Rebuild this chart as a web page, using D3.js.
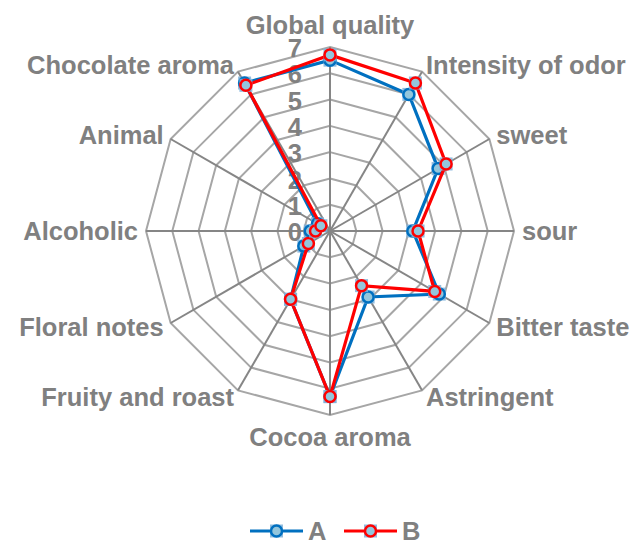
<!DOCTYPE html>
<html><head><meta charset="utf-8">
<script src="https://cdn.jsdelivr.net/npm/d3@7"></script>
<style>body{margin:0;background:#fff}svg{display:block}</style>
</head><body>
<script>
const categories = ["Global quality","Intensity of odor","sweet","sour","Bitter taste","Astringent","Cocoa aroma","Fruity and roast","Floral notes","Alcoholic","Animal","Chocolate aroma"];
const seriesA = [6.5, 6.0, 4.75, 3.15, 4.8, 2.9, 6.3, 3.0, 1.15, 0.75, 0.55, 6.5];
const seriesB = [6.7, 6.5, 5.1, 3.35, 4.6, 2.4, 6.3, 3.0, 0.95, 0.55, 0.4, 6.4];
const tickValues = [0,1,2,3,4,5,6,7];
const seriesNames = ["A","B"];

const W=636,H=544, cx=330, cy=231, R=184;
const FS=25.5;
const svg=d3.select("body").append("svg").attr("width",W).attr("height",H);
const font="'Liberation Sans', Arial, sans-serif";
const gray="#808080";
const r=d3.scaleLinear().domain([0,7]).range([0,R]);
const ang=d3.scaleLinear().domain([0,categories.length]).range([0,2*Math.PI]);
const pt=(i,v)=>[cx+r(v)*Math.sin(ang(i)), cy-r(v)*Math.cos(ang(i))];
const g=svg.append("g");
// rings
tickValues.slice(1).forEach(t=>{
  g.append("polygon").attr("points",categories.map((c,i)=>pt(i,t).join(",")).join(" "))
   .attr("fill","none").attr("stroke","#a6a6a6").attr("stroke-width",2);
});
// spokes
categories.forEach((c,i)=>{
  const p=pt(i,7);
  g.append("line").attr("x1",cx).attr("y1",cy).attr("x2",p[0]).attr("y2",p[1])
   .attr("stroke","#868686").attr("stroke-width",2);
});
// tick labels
tickValues.forEach(t=>{
  g.append("text").attr("x",cx-28).attr("y",cy-r(t)+1).attr("dy","0.36em")
   .attr("text-anchor","end").attr("font-family",font).attr("font-weight","bold")
   .attr("font-size",FS).attr("fill",gray).text(t);
});
// category labels
categories.forEach((c,i)=>{
  const a=ang(i), s=Math.sin(a);
  const isTB=Math.abs(s)<0.01;
  const p=pt(i,7+(isTB?22:8)/R*7);
  g.append("text").attr("x",p[0]).attr("y",p[1]).attr("dy","0.36em")
   .attr("text-anchor",isTB?"middle":(s>0?"start":"end"))
   .attr("font-family",font).attr("font-weight","bold").attr("font-size",FS)
   .attr("fill",gray).text(c);
});
const colors=["#0070C0","#FF0000"];
const line=d3.line().curve(d3.curveLinearClosed);
function marker(sel,x,y,col){
  sel.append("rect").attr("x",x-6.5).attr("y",y-6.5).attr("width",13).attr("height",13)
   .attr("fill","#7fb2d9").attr("opacity",0.85);
  sel.append("circle").attr("cx",x).attr("cy",y).attr("r",5.5)
   .attr("fill","#93c6dc").attr("stroke",col).attr("stroke-width",2.5);
}
[seriesA,seriesB].forEach((data,k)=>{
  const pts=data.map((v,i)=>pt(i,v));
  g.append("path").attr("d",line(pts)).attr("fill","none").attr("stroke",colors[k]).attr("stroke-width",3.2);
  pts.forEach(p=>marker(g,p[0],p[1],colors[k]));
});
// legend
const lg=svg.append("g");
const lx=[250,344];
seriesNames.forEach((n,k)=>{
  const y=531;
  lg.append("line").attr("x1",lx[k]).attr("x2",lx[k]+53).attr("y1",y).attr("y2",y)
    .attr("stroke",colors[k]).attr("stroke-width",3.2);
  marker(lg,lx[k]+26.5,y,colors[k]);
  lg.append("text").attr("x",lx[k]+58).attr("y",y).attr("dy","0.36em")
    .attr("font-family",font).attr("font-weight","bold").attr("font-size",FS)
    .attr("fill",gray).text(n);
});
</script>
</body></html>
